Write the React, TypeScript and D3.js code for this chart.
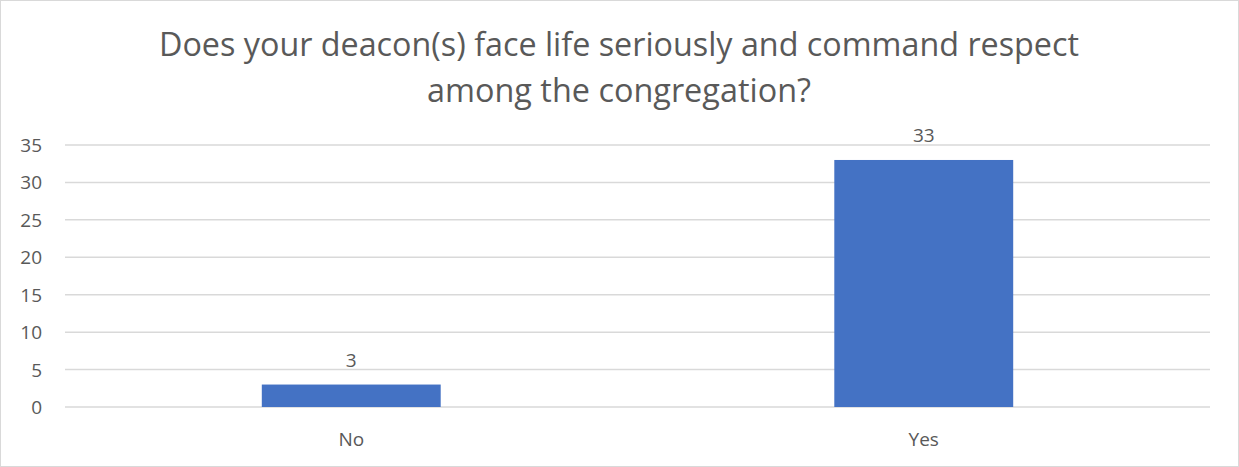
import React from "react";
import * as d3 from "d3";

const categories = ["No", "Yes"];
const values = [3, 33];
const yTicks = [0, 5, 10, 15, 20, 25, 30, 35];
const titleLines = [
  "Does your deacon(s) face life seriously and command respect",
  "among the congregation?",
];

export default function App() {
  const W = 1239;
  const H = 467;
  const x = d3.scaleBand<string>().domain(categories).range([65, 1210]).paddingInner(0.6875).paddingOuter(0.34375);
  const y = d3.scaleLinear().domain([0, 35]).range([407, 145]);
  const font = "'Open Sans', 'Liberation Sans', sans-serif";
  const textColor = "#595959";
  return (
    <svg width={W} height={H} style={{ position: "absolute", left: 0, top: 0 }} fontFamily={font}>
      <rect x={0.5} y={0.5} width={W - 1} height={H - 1} fill="#fff" stroke="#d9d9d9" />
      {titleLines.map((t, i) => (
        <text key={i} x={619} y={56 + i * 46} textAnchor="middle" fontSize={33} fill={textColor}
          textLength={i === 0 ? 920 : 384} lengthAdjust="spacingAndGlyphs">
          {t}
        </text>
      ))}
      {yTicks.map((t) => (
        <g key={t}>
          <line x1={65} x2={1210} y1={y(t)} y2={y(t)} stroke="#d9d9d9" strokeWidth={1.5} />
          <text x={42} y={y(t) + 7} textAnchor="end" fontSize={19} fill={textColor}>{t}</text>
        </g>
      ))}
      {categories.map((c, i) => {
        const bx = x(c)!;
        const bw = x.bandwidth();
        return (
          <g key={c}>
            <rect x={bx} y={y(values[i])} width={bw} height={y(0) - y(values[i])} fill="#4472C4" />
            <text x={bx + bw / 2} y={y(values[i]) - 18} textAnchor="middle" fontSize={19} fill={textColor}>{values[i]}</text>
            <text x={bx + bw / 2} y={446} textAnchor="middle" fontSize={19} fill={textColor}>{c}</text>
          </g>
        );
      })}
    </svg>
  );
}
